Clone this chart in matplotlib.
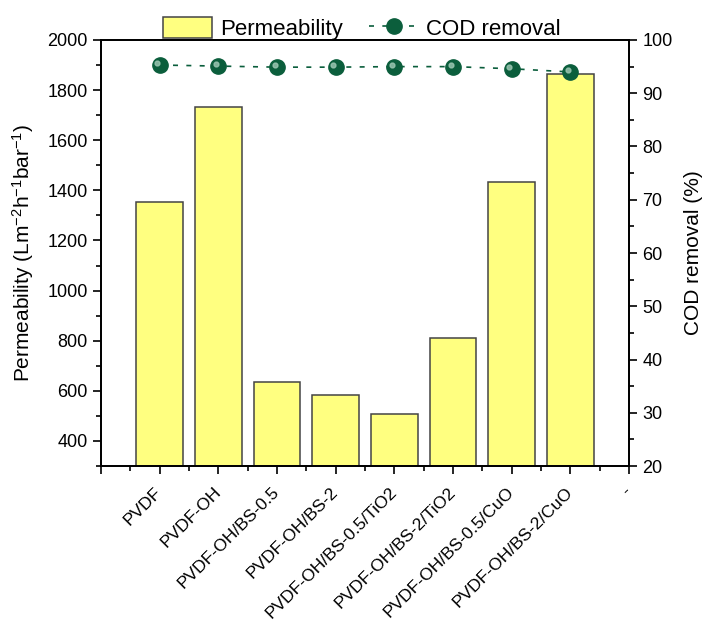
import matplotlib.pyplot as plt
import matplotlib.transforms as mtransforms
import numpy as np
from matplotlib.ticker import MultipleLocator, FixedLocator

plt.rcParams['font.family'] = ['Liberation Sans', 'DejaVu Sans']
plt.rcParams['mathtext.default'] = 'regular'

# données
membranes = ["PVDF", "PVDF-OH", "PVDF-OH/BS-0.5", "PVDF-OH/BS-2",
             "PVDF-OH/BS-0.5/TiO2", "PVDF-OH/BS-2/TiO2",
             "PVDF-OH/BS-0.5/CuO", "PVDF-OH/BS-2/CuO"]
permeability = [1355, 1732, 636, 584, 508, 812, 1432, 1864]
cod_removal = [95.3, 95.1, 94.9, 94.9, 95.0, 95.0, 94.6, 94.0]

x = np.arange(1, len(membranes) + 1)

fig = plt.figure(figsize=(7.03, 6.23), dpi=100)
ax = fig.add_axes([0.1437, 0.252, 0.7510, 0.6838])
ax2 = ax.twinx()

bars = ax.bar(x, permeability, width=0.8, color="#FFFF80", edgecolor="#444444",
              linewidth=1.1, label="Permeability", zorder=2)
line, = ax2.plot(x, cod_removal, linestyle=(0, (3, 5)), color="#0B5E3C", lw=1.2,
                 marker="o", markersize=11, markerfacecolor="#0B5E3C",
                 markeredgecolor="#0B5E3C", label="COD removal", zorder=3)
# reflet sur les billes
ax2.plot(x - 0.04, np.array(cod_removal) + 0.35, linestyle="none", marker="o",
         markersize=3.5, color="#9FC9B5", alpha=0.8, zorder=4)

ax.set_xlim(0, 9)
ax.set_ylim(300, 2000)
ax2.set_ylim(20, 100)

ax.yaxis.set_major_locator(FixedLocator(np.arange(400, 2001, 200)))
ax.yaxis.set_minor_locator(MultipleLocator(100))
ax2.yaxis.set_major_locator(MultipleLocator(10))
ax2.yaxis.set_minor_locator(MultipleLocator(5))

ax.set_xticks(np.arange(0, 10))
ax.set_xticklabels([""] + membranes + ["-"], rotation=45, ha="right", va="center",
                   rotation_mode="anchor", fontsize=12.6)
ax.xaxis.set_minor_locator(MultipleLocator(0.5))
shift = mtransforms.ScaledTranslation(0.16, 0, fig.dpi_scale_trans)
for lab in ax.get_xticklabels():
    lab.set_transform(lab.get_transform() + shift)

ax.tick_params(axis="both", which="major", direction="out", length=6, width=1.2, labelsize=13)
ax.tick_params(axis="x", which="major", labelsize=12.6, pad=11)
ax.tick_params(axis="both", which="minor", direction="out", length=3.5, width=1.2)
ax2.tick_params(axis="y", which="major", direction="out", length=6, width=1.2, labelsize=13)
ax2.tick_params(axis="y", which="minor", direction="out", length=3.5, width=1.2)

for sp in ax.spines.values():
    sp.set_linewidth(1.3)
for sp in ax2.spines.values():
    sp.set_linewidth(1.3)

ax.set_ylabel("Permeability (Lm$^{-2}$h$^{-1}$bar$^{-1}$)", fontsize=15, labelpad=8)
ax2.set_ylabel("COD removal (%)", fontsize=15, labelpad=8)

fig.legend([bars, line], ["Permeability", "COD removal"], loc="upper center",
           bbox_to_anchor=(0.515, 1.005), ncol=2, frameon=False, fontsize=16,
           handlelength=2.2, handleheight=1.1, columnspacing=1.2, handletextpad=0.35)

plt.savefig("out.png", dpi=100)
